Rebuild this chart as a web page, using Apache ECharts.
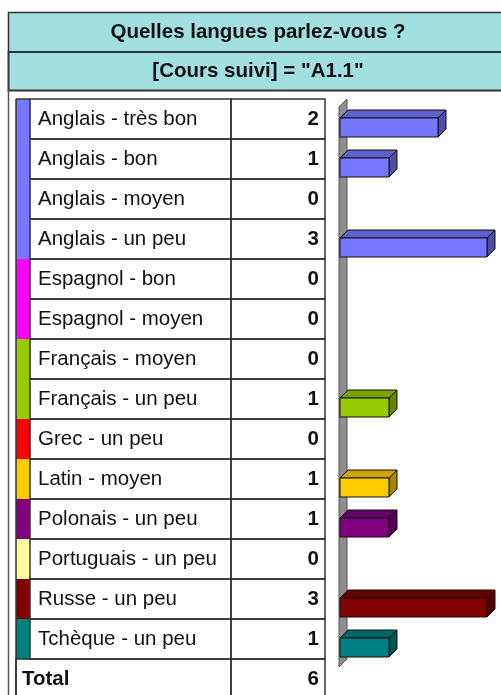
<!DOCTYPE html>
<html lang="fr">
<head>
<meta charset="UTF-8">
<title>Quelles langues parlez-vous ?</title>
<style>html,body{margin:0;padding:0;background:#fff;}</style>
</head>
<body>
<div id="main" style="width:501px;height:695px;"></div>
<script src="https://cdn.jsdelivr.net/npm/echarts@6/dist/echarts.min.js"></script>
<script>
var titre = 'Quelles langues parlez-vous ?';
var sousTitre = '[Cours suivi] = "A1.1"';
var langues = ['Anglais - très bon', 'Anglais - bon', 'Anglais - moyen', 'Anglais - un peu',
  'Espagnol - bon', 'Espagnol - moyen', 'Français - moyen', 'Français - un peu',
  'Grec - un peu', 'Latin - moyen', 'Polonais - un peu', 'Portuguais - un peu',
  'Russe - un peu', 'Tchèque - un peu'];
var reponses = [2, 1, 0, 3, 0, 0, 0, 1, 0, 1, 1, 0, 3, 1];
var couleurs = ['#7777ff', '#7777ff', '#7777ff', '#7777ff', '#ff00ff', '#ff00ff',
  '#99cc00', '#99cc00', '#ff0000', '#ffcc00', '#800080', '#ffff99', '#800000', '#008080'];
var libelleTotal = 'Total';
var total = 6;

var police = "'Liberation Sans', Arial, sans-serif";
var trait = '#333';
var taille = '20.5px ';

function assombrir(c, f) {
  var r = parseInt(c.substr(1, 2), 16), g = parseInt(c.substr(3, 2), 16), b = parseInt(c.substr(5, 2), 16);
  return 'rgb(' + Math.round(r * f) + ',' + Math.round(g * f) + ',' + Math.round(b * f) + ')';
}

var lignes = langues.concat([libelleTotal]);

function ligneTableau(params, api) {
  var i = api.value(1);
  var c = api.coord([0, i]);
  var h = api.size([0, 1])[1];
  var cs = params.coordSys;
  var x0 = cs.x, x1 = x0 + 14, x2 = x0 + 215, x3 = x0 + cs.width;
  var haut = c[1] - h / 2;
  var estTotal = i === langues.length;
  var enfants = [];
  if (!estTotal) {
    enfants.push({type: 'rect', shape: {x: x0, y: haut, width: x1 - x0, height: h}, style: {fill: couleurs[i]}});
  }
  var debut = estTotal ? x0 : x1;
  enfants.push({type: 'rect', shape: {x: debut, y: haut, width: x2 - debut, height: h},
    style: {fill: 'none', stroke: trait, lineWidth: 1.5}});
  enfants.push({type: 'rect', shape: {x: x2, y: haut, width: x3 - x2, height: h},
    style: {fill: 'none', stroke: trait, lineWidth: 1.5}});
  enfants.push({type: 'line', shape: {x1: x0, y1: haut, x2: x0, y2: haut + h},
    style: {stroke: trait, lineWidth: 1.5}});
  if (i === 0) {
    enfants.push({type: 'line', shape: {x1: x0, y1: haut, x2: x1, y2: haut}, style: {stroke: trait, lineWidth: 1.5}});
  }
  enfants.push({type: 'text', x: estTotal ? x0 + 6 : x1 + 8, y: c[1],
    style: {text: lignes[i], font: (estTotal ? 'bold ' : '') + taille + police, fill: '#111',
      align: 'left', verticalAlign: 'middle'}});
  enfants.push({type: 'text', x: x3 - 6, y: c[1],
    style: {text: String(estTotal ? total : reponses[i]), font: 'bold ' + taille + police, fill: '#111',
      align: 'right', verticalAlign: 'middle'}});
  return {type: 'group', children: enfants};
}

function mur(params, api) {
  var cs = params.coordSys;
  var x = cs.x - 1, d = 8;
  return {type: 'polygon', shape: {points: [[x, cs.y + d], [x + d, cs.y], [x + d, cs.y + cs.height], [x, cs.y + cs.height + d]]},
    style: {fill: '#8e8e8e', stroke: '#555', lineWidth: 1}};
}

function barre3d(params, api) {
  var v = api.value(0), i = api.value(1);
  if (!v) return;
  var a = api.coord([0, i]);
  var b = api.coord([v, i]);
  var y0 = a[1] - 1, h = 19, d = 8;
  var c = couleurs[i];
  return {type: 'group', children: [
    {type: 'polygon', shape: {points: [[a[0], y0], [a[0] + d, y0 - d], [b[0] + d, y0 - d], [b[0], y0]]},
      style: {fill: assombrir(c, 0.8), stroke: '#111', lineWidth: 1}},
    {type: 'polygon', shape: {points: [[b[0], y0], [b[0] + d, y0 - d], [b[0] + d, y0 + h - d], [b[0], y0 + h]]},
      style: {fill: assombrir(c, 0.65), stroke: '#111', lineWidth: 1}},
    {type: 'rect', shape: {x: a[0], y: y0, width: b[0] - a[0], height: h},
      style: {fill: c, stroke: '#111', lineWidth: 1}}
  ]};
}

var option = {
  animation: false,
  graphic: [
    {type: 'rect', shape: {x: 8.5, y: 12.5, width: 520, height: 39.5}, style: {fill: '#a2dfdf', stroke: trait, lineWidth: 1.5}},
    {type: 'rect', shape: {x: 8.5, y: 52, width: 520, height: 38.5}, style: {fill: '#a2dfdf', stroke: trait, lineWidth: 2}},
    {type: 'line', shape: {x1: 8.5, y1: 90, x2: 8.5, y2: 695}, style: {stroke: '#555', lineWidth: 1.5}},
    {type: 'text', x: 258, y: 32, style: {text: titre, font: 'bold ' + taille + police, fill: '#111', align: 'center', verticalAlign: 'middle'}},
    {type: 'text', x: 258, y: 71, style: {text: sousTitre, font: 'bold ' + taille + police, fill: '#111', align: 'center', verticalAlign: 'middle'}}
  ],
  grid: [
    {left: 16, top: 99, width: 309, height: 600, outerBoundsMode: 'none'},
    {left: 340, top: 99, width: 147, height: 560, outerBoundsMode: 'none'}
  ],
  xAxis: [
    {gridIndex: 0, type: 'value', min: 0, max: 1, show: false},
    {gridIndex: 1, type: 'value', min: 0, max: 3, show: false}
  ],
  yAxis: [
    {gridIndex: 0, type: 'category', data: lignes, inverse: true, show: false},
    {gridIndex: 1, type: 'category', data: langues, inverse: true, show: false}
  ],
  series: [
    {type: 'custom', xAxisIndex: 0, yAxisIndex: 0, renderItem: ligneTableau, clip: false,
      data: lignes.map(function (l, i) { return [0, i]; })},
    {type: 'custom', xAxisIndex: 1, yAxisIndex: 1, renderItem: mur, clip: false, z: 1,
      data: [[0, 0]]},
    {type: 'custom', xAxisIndex: 1, yAxisIndex: 1, renderItem: barre3d, clip: false, z: 2,
      encode: {x: 0, y: 1},
      data: reponses.map(function (v, i) { return [v, i]; })}
  ]
};

var myChart = echarts.init(document.getElementById('main'));
myChart.setOption(option);
</script>
</body>
</html>
